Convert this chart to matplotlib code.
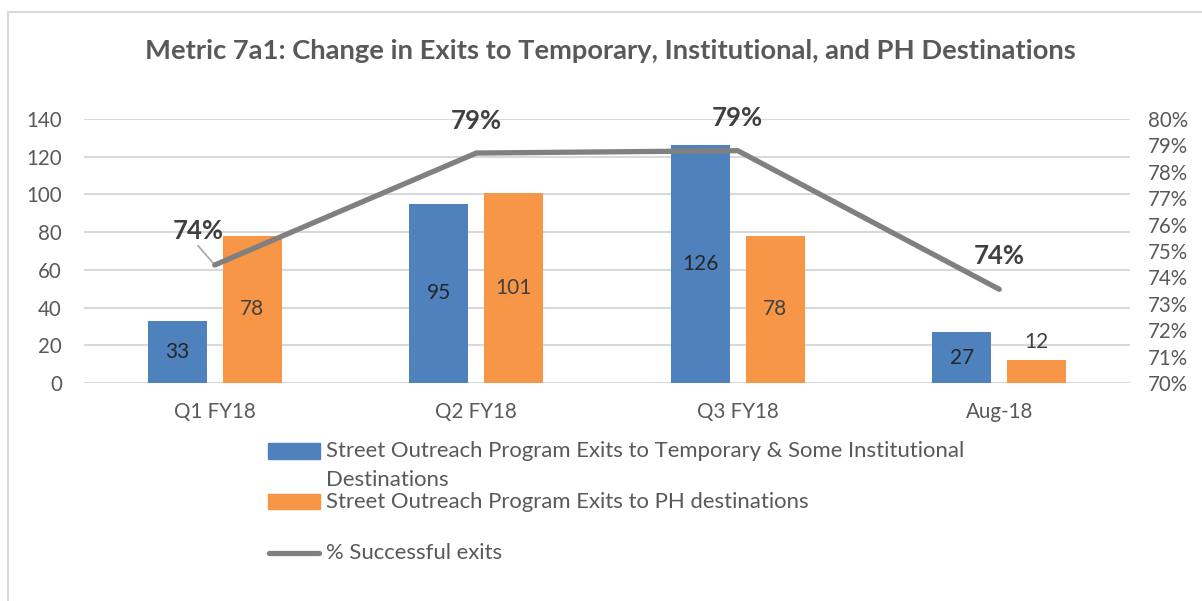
import matplotlib
matplotlib.use("Agg")
import matplotlib.pyplot as plt
from matplotlib.patches import Rectangle
from matplotlib.lines import Line2D
from matplotlib.ticker import FuncFormatter
import numpy as np

plt.rcParams['font.family'] = ['Lato', 'DejaVu Sans']

categories = ['Q1 FY18', 'Q2 FY18', 'Q3 FY18', 'Aug-18']
temp_exits = [33, 95, 126, 27]
ph_exits = [78, 101, 78, 12]
pct_success = [0.7447, 0.7871, 0.7880, 0.7355]
pct_labels = ['74%', '79%', '79%', '74%']

title = 'Metric 7a1: Change in Exits to Temporary, Institutional, and PH Destinations'
leg_temp = 'Street Outreach Program Exits to Temporary & Some Institutional\nDestinations'
leg_ph = 'Street Outreach Program Exits to PH destinations'
leg_pct = '% Successful exits'

BLUE = '#4F81BD'
ORANGE = '#F79646'
LINE = '#808080'
GRID = '#D9D9D9'
TXT = '#595959'

W, H = 1202, 601
fig = plt.figure(figsize=(W / 100, H / 100), dpi=100)
ax = fig.add_axes([84 / W, 1 - 383 / H, 1046 / W, 264 / H])

x = np.arange(len(categories))
bw = 0.225
off = 0.143
ax.bar(x - off, temp_exits, bw, color=BLUE, zorder=2)
ax.bar(x + off, ph_exits, bw, color=ORANGE, zorder=2)

ax.set_xlim(-0.5, len(categories) - 0.5)
ax.set_ylim(0, 140)
ax.set_yticks(range(0, 141, 20))
ax.yaxis.grid(True, color=GRID, lw=1.5, zorder=0)
ax.set_axisbelow(True)
for s in ax.spines.values():
    s.set_visible(False)
ax.set_xticks(x)
ax.set_xticklabels(categories)
ax.tick_params(axis='x', length=0, pad=14, labelsize=14.8, labelcolor=TXT)
ax.tick_params(axis='y', length=0, pad=16, labelsize=14.8, labelcolor=TXT)
ax.axhline(0, color=GRID, lw=1.5, zorder=1)

# bar labels
for i, v in enumerate(temp_exits):
    ax.text(x[i] - off, v / 2, str(v), ha='center', va='center',
            fontsize=15, color='#262626', zorder=3)
for i, v in enumerate(ph_exits):
    if v > 30:
        ax.text(x[i] + off, v / 2, str(v), ha='center', va='center',
                fontsize=15, color='#404040', zorder=3)
    else:
        ax.text(x[i] + off, v + 10, str(v), ha='center', va='center',
                fontsize=15, color='#404040', zorder=3)

ax2 = ax.twinx()
ax2.set_ylim(0.70, 0.80)
ax2.set_yticks(np.linspace(0.70, 0.80, 11))
ax2.yaxis.set_major_formatter(FuncFormatter(lambda v, p: f'{v * 100:.0f}%'))
ax2.tick_params(axis='y', length=0, pad=13, labelsize=14.8, labelcolor=TXT)
for s in ax2.spines.values():
    s.set_visible(False)
ax2.plot(x, pct_success, color=LINE, lw=3.8, solid_capstyle='round',
         solid_joinstyle='miter', zorder=4)

offsets = [(-12, 16), (0, 14.5), (0, 15), (0, 15)]
for i, (v, lab) in enumerate(zip(pct_success, pct_labels)):
    kw = {}
    if i == 0:
        kw['arrowprops'] = dict(arrowstyle='-', color='#A6A6A6', lw=1.2,
                                shrinkA=0, shrinkB=1, relpos=(0.45, 0.0))
    ax2.annotate(lab, (x[i], v), xytext=offsets[i], textcoords='offset points',
                 ha='center', va='bottom', fontsize=18.5, fontweight='bold',
                 color='#404040', **kw)

fig.text(610 / W, 1 - 51 / H, title, ha='center', va='center',
         fontsize=19.7, fontweight='bold', color=TXT)

# legend
fig.add_artist(Rectangle((268 / W, 1 - 459 / H), 52 / W, 16 / H,
                         transform=fig.transFigure, color=BLUE))
fig.add_artist(Rectangle((268 / W, 1 - 509 / H), 52 / W, 15 / H,
                         transform=fig.transFigure, color=ORANGE))
fig.add_artist(Line2D([269 / W, 319 / W], [1 - 553 / H, 1 - 553 / H],
                      transform=fig.transFigure, color=LINE, lw=3.8,
                      solid_capstyle='round'))
lines = leg_temp.split('\n')
fig.text(326 / W, 1 - 451 / H, lines[0], ha='left', va='center',
         fontsize=15.9, color=TXT)
fig.text(326 / W, 1 - 480 / H, lines[1], ha='left', va='center',
         fontsize=15.9, color=TXT)
fig.text(326 / W, 1 - 502 / H, leg_ph, ha='left', va='center',
         fontsize=15.9, color=TXT)
fig.text(326 / W, 1 - 553 / H, leg_pct, ha='left', va='center',
         fontsize=15.9, color=TXT)

# outer chart border
fig.add_artist(Rectangle((8 / W, -0.1), 1.2, 1 - 12 / H + 0.1,
                         transform=fig.transFigure, fill=False,
                         edgecolor=GRID, lw=1.5))

fig.savefig('out.png', dpi=100)
